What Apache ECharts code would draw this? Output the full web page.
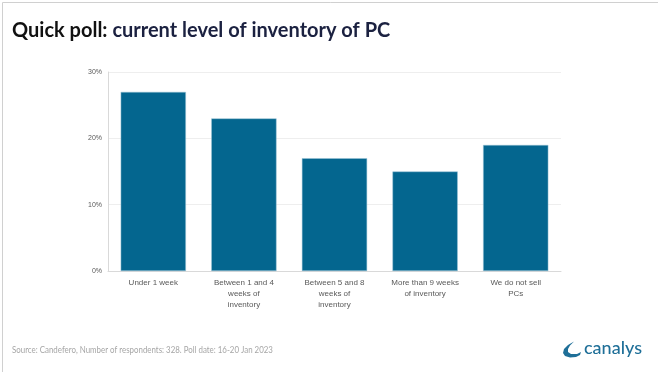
<!DOCTYPE html>
<html><head><meta charset="utf-8">
<script src="https://cdn.jsdelivr.net/npm/echarts@6/dist/echarts.min.js"></script>
<style>html,body{margin:0;padding:0;background:#fff}#c{width:658px;height:372px}</style>
</head><body><div id="c"></div>
<script>
const categories = ["Under 1 week", "Between 1 and 4\nweeks of\ninventory", "Between 5 and 8\nweeks of\ninventory", "More than 9 weeks\nof inventory", "We do not sell\nPCs"];
const values = [27, 23, 17, 15, 19];
const yTicks = [0, 10, 20, 30];

const chart = echarts.init(document.getElementById('c'), null, {renderer: 'canvas'});
chart.setOption({
  backgroundColor: '#fff',
  animation: false,
  grid: {left: 108, right: 97, top: 72, bottom: 101},
  xAxis: {
    type: 'category', data: categories,
    axisLine: {lineStyle: {color: '#d9d9d9'}},
    axisTick: {show: false},
    axisLabel: {color: '#595959', fontSize: 8, fontFamily: 'Liberation Sans, Arial', lineHeight: 11, margin: 6, interval: 0}
  },
  yAxis: {
    type: 'value', min: yTicks[0], max: yTicks[yTicks.length - 1], interval: 10,
    axisLine: {show: true, lineStyle: {color: '#d9d9d9'}},
    axisTick: {show: false},
    splitLine: {lineStyle: {color: '#eeeeee'}},
    axisLabel: {color: '#595959', fontSize: 7, fontFamily: 'Liberation Sans, Arial', formatter: '{value}%', margin: 6}
  },
  series: [{
    type: 'bar', data: values, barCategoryGap: '28%',
    itemStyle: {color: '#04668f', borderColor: '#9cc4d6', borderWidth: 0.5}
  }],
  graphic: [
    {type: 'rect', left: 0, top: 0, shape: {width: 657, height: 371}, style: {fill: 'none', stroke: '#d0d0d0', lineWidth: 1}, silent: true},
    {type: 'text', left: 12, top: 21, style: {rich: {a: {fill: '#111111', fontSize: 20, fontWeight: 'bold', fontFamily: 'Lato'}, b: {fill: '#1b2140', fontSize: 20, fontWeight: 'bold', fontFamily: 'Lato'}}, text: '{a|Quick poll: }{b|current level of inventory of PC}'}},
    {type: 'text', x: 12, y: 345, scaleX: 0.79, style: {text: 'Source: Candefero, Number of respondents: 328. Poll date: 16-20 Jan 2023', fill: '#a6a6a6', fontSize: 10, fontFamily: 'Lato'}},
    {type: 'polygon', shape: {points: [[574,341.5],[568,345],[564,349],[563,353],[565,356],[570,357.5],[576,357],[580,355],[581,352],[577,354],[571,354],[568,352],[568,349],[570,345.5]]}, style: {fill: '#1f6f98'}},
    {type: 'text', left: 584, top: 339, style: {text: 'canalys', fill: '#1f6f98', fontSize: 18, fontFamily: 'Lato', fontWeight: 500}}
  ]
});
</script></body></html>
